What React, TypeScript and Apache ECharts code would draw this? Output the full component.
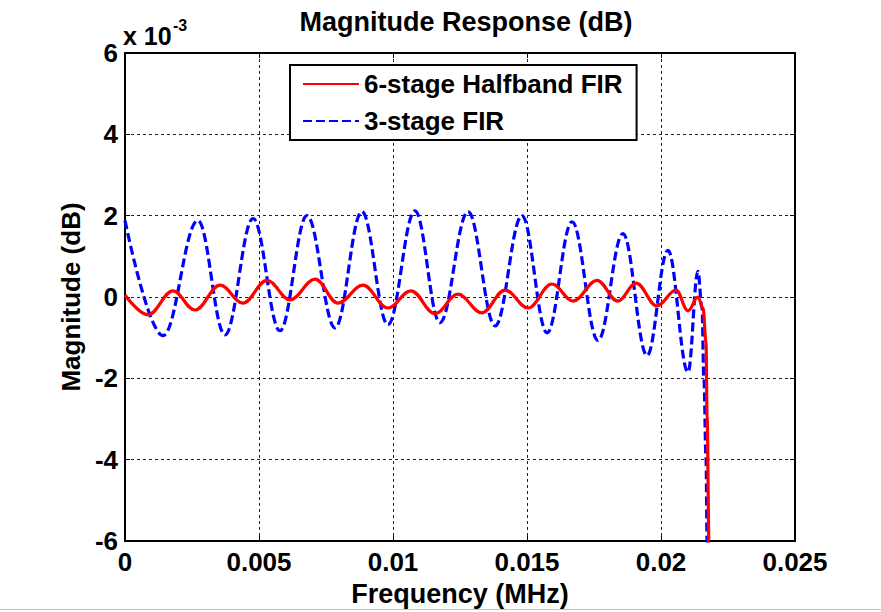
import React, { useEffect, useRef } from "react";
import * as echarts from "echarts";

// Frequency axis in MHz; magnitudes in units of 1e-3 dB (multiplier shown above the y axis).
const xTicks = [0, 0.005, 0.01, 0.015, 0.02, 0.025];
const yTicks = [-6, -4, -2, 0, 2, 4, 6];

const seriesNames = ["6-stage Halfband FIR", "3-stage FIR"];

// 6-stage halfband FIR: ripple extrema followed by the band edge roll-off
const halfbandFreq = [
  0, 0.00086, 0.00179, 0.00261, 0.00355, 0.0044, 0.0053, 0.00616, 0.00709,
  0.00795, 0.00888, 0.00981, 0.01067, 0.01157, 0.01242, 0.01332, 0.01418,
  0.01504, 0.01593, 0.01672, 0.01761, 0.01839, 0.01907, 0.01985, 0.02056,
  0.02101, 0.02138, 0.02157, 0.02168, 0.02172, 0.02179, 0.02183,
];
const halfbandMag = [
  0.05, -0.44, 0.15, -0.32, 0.29, -0.15, 0.41, -0.07, 0.44, -0.15, 0.29,
  -0.27, 0.15, -0.41, 0.07, -0.39, 0.17, -0.27, 0.32, -0.1, 0.41, -0.1, 0.34,
  -0.22, 0.17, -0.34, 0.0, -0.27, -1.12, -2.95, -6.0, -7.5,
];

// 3-stage FIR: larger ripple, growing towards the band edge
const threeStageFreq = [
  0, 0.00142, 0.00272, 0.00373, 0.00478, 0.00578, 0.00679, 0.00784, 0.00884,
  0.00981, 0.01082, 0.01175, 0.0128, 0.01381, 0.01481, 0.01575, 0.01668,
  0.01765, 0.01858, 0.01948, 0.02026, 0.02101, 0.02138, 0.02153, 0.0216,
  0.02168, 0.02172, 0.02176,
];
const threeStageMag = [
  1.88, -0.95, 1.88, -0.93, 1.93, -0.83, 2.0, -0.76, 2.1, -0.68, 2.12, -0.63,
  2.1, -0.71, 2.0, -0.88, 1.85, -1.07, 1.56, -1.44, 1.15, -1.85, 0.63, -0.27,
  -1.98, -3.93, -6.0, -7.5,
];

const FONT = "Liberation Sans, Arial, Helvetica, sans-serif";

const zip = (xs: number[], ys: number[]) => xs.map((x, i) => [x, ys[i]]);

export default function App() {
  const ref = useRef<HTMLDivElement | null>(null);

  useEffect(() => {
    if (!ref.current) return;
    const chart = echarts.init(ref.current, null, { renderer: "svg" });

    const gridLeft = 125;
    const gridTop = 53;
    const gridWidth = 670;
    const gridHeight = 492;

    const tickLabel = {
      color: "#000",
      fontFamily: FONT,
      fontWeight: "bold" as const,
      fontSize: 26,
    };
    const frame = { show: true, onZero: false, lineStyle: { color: "#000", width: 2 } };
    const innerTicks = { show: true, inside: true, length: 5, lineStyle: { color: "#000", width: 1 } };
    const gridLines = { show: true, lineStyle: { color: "#222", width: 1, type: [3, 3] as number[] } };

    chart.setOption({
      animation: false,
      backgroundColor: "#fff",
      grid: { left: gridLeft, top: gridTop, width: gridWidth, height: gridHeight, containLabel: false },
      xAxis: [
        {
          type: "value",
          min: xTicks[0],
          max: xTicks[xTicks.length - 1],
          interval: xTicks[1] - xTicks[0],
          position: "bottom",
          axisLine: frame,
          axisTick: innerTicks,
          splitLine: gridLines,
          axisLabel: {
            ...tickLabel,
            margin: 8,
            formatter: (v: number) => String(+v.toFixed(3)),
          },
          name: "Frequency (MHz)",
          nameLocation: "middle",
          nameGap: 39,
          nameTextStyle: { ...tickLabel, fontSize: 27 },
        },
        {
          type: "value",
          min: xTicks[0],
          max: xTicks[xTicks.length - 1],
          interval: xTicks[1] - xTicks[0],
          position: "top",
          axisLine: frame,
          axisTick: innerTicks,
          axisLabel: { show: false },
          splitLine: { show: false },
        },
      ],
      yAxis: [
        {
          type: "value",
          min: yTicks[0],
          max: yTicks[yTicks.length - 1],
          interval: yTicks[1] - yTicks[0],
          position: "left",
          axisLine: frame,
          axisTick: innerTicks,
          splitLine: gridLines,
          axisLabel: { ...tickLabel, margin: 7, formatter: (v: number) => String(Math.round(v)) },
          name: "Magnitude (dB)",
          nameLocation: "middle",
          nameRotate: 90,
          nameGap: 38,
          nameTextStyle: { ...tickLabel, fontSize: 26 },
        },
        {
          type: "value",
          min: yTicks[0],
          max: yTicks[yTicks.length - 1],
          interval: yTicks[1] - yTicks[0],
          position: "right",
          axisLine: frame,
          axisTick: innerTicks,
          axisLabel: { show: false },
          splitLine: { show: false },
        },
      ],
      legend: {
        data: seriesNames,
        orient: "vertical",
        left: 290,
        top: 65,
        padding: [6, 14, 6, 12],
        itemGap: 11,
        itemWidth: 56,
        itemHeight: 14,
        borderColor: "#000",
        borderWidth: 2,
        borderRadius: 0,
        backgroundColor: "#fff",
        itemStyle: { opacity: 0, borderWidth: 0 },
        textStyle: { ...tickLabel },
      },
      graphic: [
        {
          type: "text",
          x: 466,
          y: 22,
          style: {
            text: "Magnitude Response (dB)",
            font: `bold 27px ${FONT}`,
            fill: "#000",
            textAlign: "center",
            textVerticalAlign: "middle",
          },
        },
        {
          type: "text",
          x: 123,
          y: 36,
          style: {
            text: "x 10",
            font: `bold 25px ${FONT}`,
            fill: "#000",
            textAlign: "left",
            textVerticalAlign: "middle",
          },
        },
        {
          type: "text",
          x: 173,
          y: 25,
          style: {
            text: "-3",
            font: `bold 16px ${FONT}`,
            fill: "#000",
            textAlign: "left",
            textVerticalAlign: "middle",
          },
        },
        {
          type: "line",
          shape: { x1: 0, y1: 609.5, x2: 881, y2: 609.5 },
          style: { stroke: "#c4c4c4", lineWidth: 1 },
        },
      ],
      series: [
        {
          name: seriesNames[0],
          type: "line",
          z: 3,
          data: zip(halfbandFreq, halfbandMag),
          symbol: "none",
          showSymbol: false,
          smooth: 0.38,
          smoothMonotone: "x",
          clip: true,
          lineStyle: { color: "#ff0000", width: 3.2 },
          itemStyle: { color: "#ff0000" },
        },
        {
          name: seriesNames[1],
          type: "line",
          z: 2,
          data: zip(threeStageFreq, threeStageMag),
          symbol: "none",
          showSymbol: false,
          smooth: 0.38,
          smoothMonotone: "x",
          clip: true,
          lineStyle: { color: "#0000ff", width: 3.2, type: [9, 4] },
          itemStyle: { color: "#0000ff" },
        },
      ],
    });

    return () => chart.dispose();
  }, []);

  return (
    <div
      ref={ref}
      style={{ position: "fixed", left: 0, top: 0, width: 881, height: 612, background: "#fff" }}
    />
  );
}
